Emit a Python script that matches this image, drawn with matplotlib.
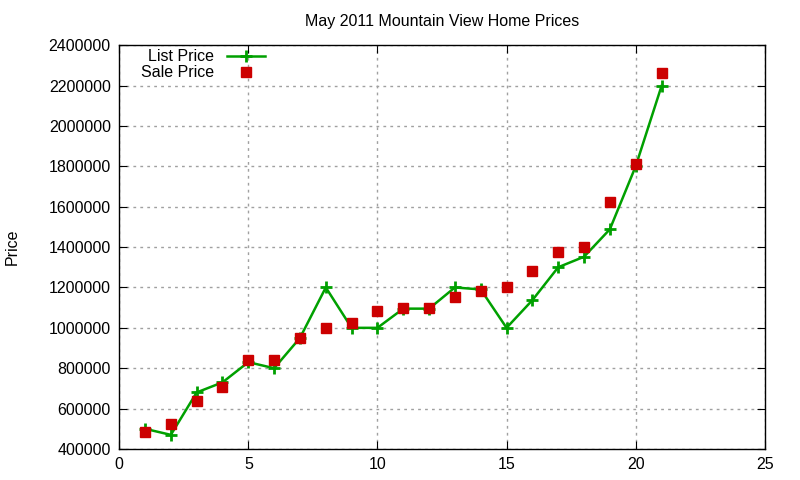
import matplotlib.pyplot as plt
from matplotlib.ticker import MultipleLocator, FormatStrFormatter

plt.rcParams['font.family'] = ['Liberation Sans', 'DejaVu Sans']

# Home index (1..21) and prices
homes = list(range(1, 22))
list_price = [500000, 470000, 680000, 730000, 830000, 800000, 950000, 1200000,
              1000000, 1000000, 1095000, 1095000, 1200000, 1190000, 1000000,
              1137000, 1300000, 1352000, 1488000, 1800000, 2197000]
sale_price = [484000, 522000, 636000, 705000, 842000, 842000, 948000, 997000,
              1025000, 1081000, 1100000, 1100000, 1155000, 1183000, 1203000,
              1283000, 1377000, 1402000, 1625000, 1812000, 2264000]

fig = plt.figure(figsize=(8, 4.8), dpi=100)
ax = fig.add_axes([0.149, 0.0646, 0.807, 0.8414])

ax.plot(homes, list_price, color='#00a000', lw=1.8, marker='+', ms=9, mew=2,
        label='List Price', zorder=3)
ax.plot(homes, sale_price, ls='none', color='#cc0000', marker='s', ms=7,
        label='Sale Price', zorder=4)

ax.set_xlim(0, 25)
ax.set_ylim(400000, 2400000)
ax.xaxis.set_major_locator(MultipleLocator(5))
ax.yaxis.set_major_locator(MultipleLocator(200000))
ax.yaxis.set_major_formatter(FormatStrFormatter('%d'))
ax.tick_params(direction='in', top=True, right=True, labelsize=11.5, length=6, pad=6)
ax.grid(True, color='#a0a0a0', ls=(0, (2, 3)), lw=1)
for s in ax.spines.values():
    s.set_linewidth(1)

ax.set_title('May 2011 Mountain View Home Prices', fontsize=11.5, pad=14)
ax.set_ylabel('Price', fontsize=11.5, labelpad=21)

ax.legend(loc='upper left', frameon=False, markerfirst=False, fontsize=11.5,
          handlelength=2.4, borderaxespad=0.0, labelspacing=0.05,
          bbox_to_anchor=(0.024, 1.005))

plt.savefig('out.png', dpi=100)
